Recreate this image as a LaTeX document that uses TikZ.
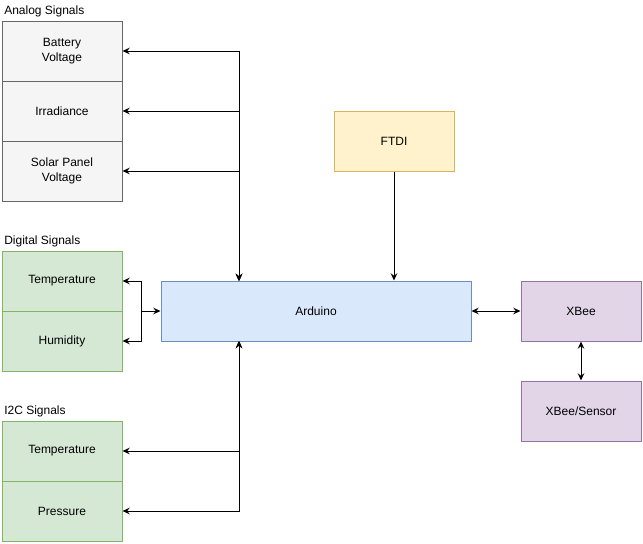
\documentclass[tikz,border=0pt]{standalone}
\usepackage{fontspec}
\setmainfont{Liberation Sans}
\usetikzlibrary{arrows.meta}
\definecolor{grayfill}{HTML}{F5F5F5}\definecolor{graydraw}{HTML}{666666}
\definecolor{greenfill}{HTML}{D5E8D4}\definecolor{greendraw}{HTML}{82B366}
\definecolor{bluefill}{HTML}{DAE8FC}\definecolor{bluedraw}{HTML}{6C8EBF}
\definecolor{yellowfill}{HTML}{FFF2CC}\definecolor{yellowdraw}{HTML}{D6B656}
\definecolor{purplefill}{HTML}{E1D5E7}\definecolor{purpledraw}{HTML}{9673A6}
\tikzset{
  blk/.style={draw,line width=0.75pt,minimum width=90pt,minimum height=45pt,align=center,inner sep=1pt},
  analog/.style={blk,fill=grayfill,draw=graydraw},
  signal/.style={blk,fill=greenfill,draw=greendraw},
  grp/.style={anchor=west,inner sep=0pt},
  link/.style={line width=0.75pt,>={Stealth[length=5.5pt,width=5pt,inset=2pt]}}
}
\begin{document}
\begin{tikzpicture}[x=0.75pt,y=-0.75pt,font=\fontsize{9}{11}\selectfont]
\useasboundingbox (0,0) rectangle (643,543);
% left column
\node[grp] (lanalog) at (4,11) {Analog Signals};
\node[analog] (batt) at (62,51) {Battery\\Voltage};
\node[analog] (irr) at (62,111) {Irradiance};
\node[analog] (solar) at (62,171) {Solar Panel\\Voltage};
\node[grp] (ldigital) at (4,241) {Digital Signals};
\node[signal] (dtemp) at (62,281) {Temperature};
\node[signal] (hum) at (62,341) {Humidity};
\node[grp] (li2c) at (4,411) {I2C Signals};
\node[signal] (itemp) at (62,451) {Temperature};
\node[signal] (press) at (62,511) {Pressure};
% middle and right
\node[blk,fill=yellowfill,draw=yellowdraw] (ftdi) at (394,141) {FTDI};
\node[blk,fill=bluefill,draw=bluedraw,minimum width=232.5pt] (ard) at (316,311) {Arduino};
\node[blk,fill=purplefill,draw=purpledraw] (xbee) at (581,311) {XBee};
\node[blk,fill=purplefill,draw=purpledraw] (xsens) at (581,411) {XBee/Sensor};
\coordinate (abus) at (239,281);
\coordinate (dbus) at (141,311);
\coordinate (ibus) at (239,341);
% connectors
\draw[link,<->](abus)|-(batt.east);
\draw[link,<->](abus)|-(irr.east);
\draw[link,<->](abus)|-(solar.east);
\draw[link,->](dbus)|-(dtemp.east);
\draw[link,->](dbus)|-(hum.east);
\draw[link,->](dbus)--(ard.west);
\draw[link,<->](ibus)|-(itemp.east);
\draw[link,<->](ibus)|-(press.east);
\draw[link,->](ftdi.south)--(ftdi.south|-ard.north);
\draw[link,<->](ard.east)--(xbee.west);
\draw[link,<->](xbee.south)--(xsens.north);
\end{tikzpicture}
\end{document}
